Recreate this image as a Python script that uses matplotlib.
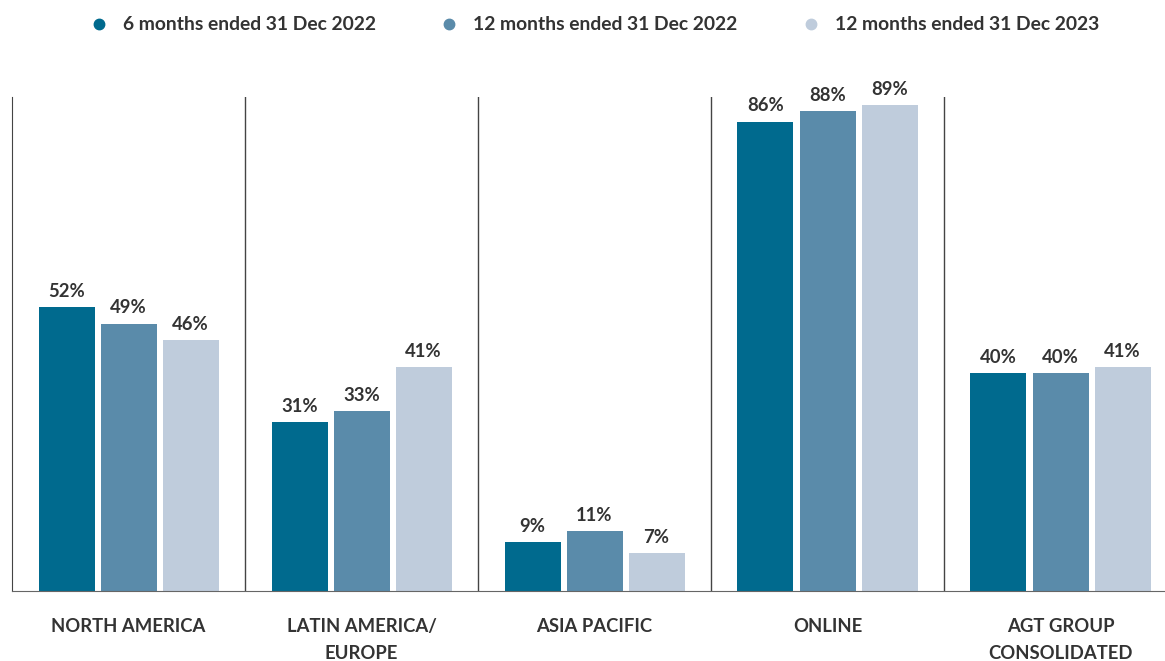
import matplotlib.pyplot as plt
import numpy as np
from matplotlib.lines import Line2D
from matplotlib.transforms import blended_transform_factory

plt.rcParams['font.family'] = ['Lato', 'DejaVu Sans']

categories = ['NORTH AMERICA', 'LATIN AMERICA/\nEUROPE', 'ASIA PACIFIC', 'ONLINE', 'AGT GROUP\nCONSOLIDATED']
series_names = ['6 months ended 31 Dec 2022', '12 months ended 31 Dec 2022', '12 months ended 31 Dec 2023']
h2_2022 = [52, 31, 9, 86, 40]
fy_2022 = [49, 33, 11, 88, 40]
fy_2023 = [46, 41, 7, 89, 41]
colors = ['#006a8e', '#5a8baa', '#bfccdc']
txt = '#333333'

W, H = 1165, 661
fig = plt.figure(figsize=(W / 100, H / 100), dpi=100)
ax = fig.add_axes([12 / W, 70 / H, 1 - 12 / W, (591 - 97) / H])

x = np.arange(len(categories))
w = 56 / 233
step = 62 / 233
for k, vals in enumerate([h2_2022, fy_2022, fy_2023]):
    pos = x + (k - 1) * step
    bars = ax.bar(pos, vals, width=w, color=colors[k], zorder=2)
    for b, v in zip(bars, vals):
        ax.text(b.get_x() + b.get_width() / 2, v + 1.85, f'{v}%', ha='center', va='baseline',
                fontsize=13.3, fontweight='bold', color=txt)

# group separators
for s in x[1:] - 0.5:
    ax.axvline(s, color='#444444', lw=1, zorder=1)

ax.set_xlim(-0.5, -0.5 + 1153 / 233)
ax.set_ylim(0, 90.5)
ax.set_yticks([])
ax.set_xticks([])
for sp in ['top', 'right']:
    ax.spines[sp].set_visible(False)
ax.spines['left'].set_color('#444444')
ax.spines['bottom'].set_color('#666666')

# category labels, one line at a time (baselines at 632 and 659 px from top)
trans = blended_transform_factory(ax.transData, fig.transFigure)
for i, c in enumerate(categories):
    for j, line in enumerate(c.split('\n')):
        ax.text(i, 1 - (632 + 27 * j) / H, line, ha='center', va='baseline', fontsize=13.3,
                fontweight='bold', color=txt, transform=trans, clip_on=False)

handles = [Line2D([], [], marker='o', ls='', markersize=7.5, color=c) for c in colors]
fig.legend(handles, series_names, loc='center', bbox_to_anchor=(594 / W, 1 - 25 / H),
           ncol=3, frameon=False, prop={'weight': 'bold', 'size': 13.9},
           handlelength=1.0, handletextpad=0.75, columnspacing=3.3, labelcolor=txt)

fig.savefig('out.png', dpi=100)
